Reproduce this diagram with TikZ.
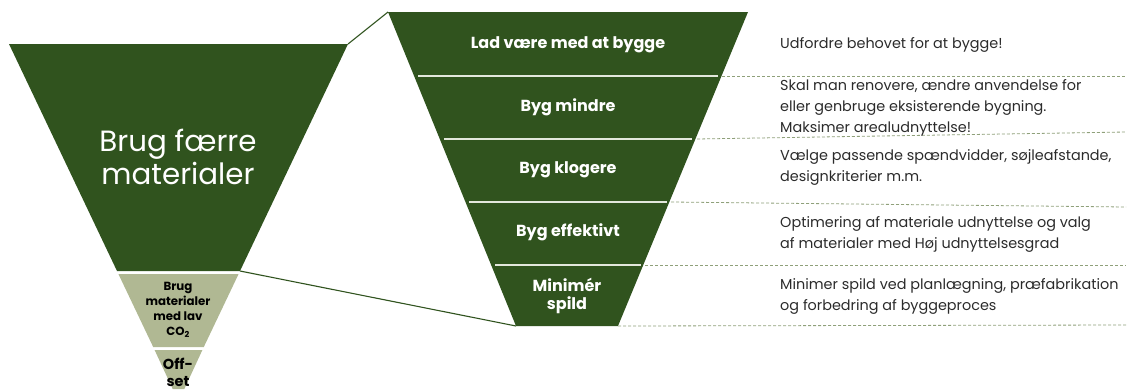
\documentclass[tikz,border=0pt]{standalone}
\usepackage{fontspec}
\setmainfont{Poppins}
\usetikzlibrary{calc,positioning}
\definecolor{Forest}{HTML}{30531E}
\definecolor{Khaki}{HTML}{B0B893}
\definecolor{Guide}{HTML}{8FA07A}
\definecolor{Ink}{HTML}{2B2B2B}
\definecolor{Seam}{HTML}{E3E7DC}
\tikzset{
  darkband/.style={fill=Forest,draw=none},
  lightband/.style={fill=Khaki,draw=none},
  stepname/.style={text=white,font=\fontsize{16}{18}\selectfont\bfseries,align=center},
  lowname/.style={text=black,font=\fontsize{11.8}{15}\selectfont\bfseries,align=center},
  notetext/.style={anchor=west,text=Ink,font=\fontsize{14.4}{21}\selectfont,align=left,inner sep=0pt},
  seamline/.style={draw=Seam,line width=2pt},
  guideline/.style={draw=Guide,dashed,dash pattern=on 3pt off 2pt,line width=.8pt},
  zoomline/.style={draw=Forest,line width=1.1pt}
}
\begin{document}
\begin{tikzpicture}[x=1pt,y=-1pt]
  \useasboundingbox (0,0) rectangle (1134,389);
  % left funnel
  \coordinate (ltl) at (9,44);
  \coordinate (ltr) at (348,44);
  \coordinate (lbl) at (117,271);
  \coordinate (lbr) at (240,271);
  \fill[darkband] (ltl) -- (ltr) -- (lbr) -- (lbl) -- cycle;
  \fill[lightband] (118.4,274) -- (238.6,274) -- (203.8,347) -- (153.2,347) -- cycle;
  \fill[lightband] (154.6,350) -- (202.4,350) -- (184.3,389) -- (172.7,389) -- cycle;
  \node[text=white,font=\fontsize{29.3}{33}\selectfont,align=center] (fewer) at (178,157) {Brug færre\\materialer};
  \node[lowname] (lowco) at (178,310) {Brug\\materialer\\med lav\\CO\textsubscript{2}};
  \node[lowname,font=\fontsize{14.5}{17}\selectfont\bfseries] (offset) at (178,372) {Off-\\set};
  % right funnel
  \coordinate (rtl) at (388,12);
  \coordinate (rtr) at (748,12);
  \coordinate (rbl) at (516,326);
  \coordinate (rbr) at (618,326);
  \fill[darkband] (rtl) -- (rtr) -- (rbr) -- (rbl) -- cycle;
  \foreach \y/\xl/\xr in {76/414/722,139/440/696,202/465/671,265/491/645}{
    \draw[seamline] (\xl+4,\y) -- (\xr-4,\y);
  }
  % zoom lines
  \draw[zoomline] (ltr) -- (rtl);
  \draw[zoomline] (lbr) -- (rbl);
  % dashed guides
  \coordinate (ga) at (722,76);   \coordinate (gae) at (1126,76);
  \coordinate (gb) at (697,139);  \coordinate (gbe) at (1126,132);
  \coordinate (gc) at (671,202);  \coordinate (gce) at (1126,207);
  \coordinate (gd) at (645,265);  \coordinate (gde) at (1126,265);
  \draw[guideline] (ga) -- (gae);
  \draw[guideline] (gb) -- (gbe);
  \draw[guideline] (gc) -- (gce);
  \draw[guideline] (gd) -- (gde);
  \draw[guideline] (rbr) -- (1126,325);
  % step names
  \node[stepname] (dont) at (568,45) {Lad være med at bygge};
  \node[stepname] (less) at (568,107) {Byg mindre};
  \node[stepname] (smart) at (568,170) {Byg klogere};
  \node[stepname] (effic) at (568,232) {Byg effektivt};
  \node[stepname] (waste) at (567,296) {Minimér\\spild};
  % notes
  \node[notetext] (ndont) at (780,45) {Udfordre behovet for at bygge!};
  \node[notetext] (nless) at (780,108) {Skal man renovere, ændre anvendelse for\\eller genbruge eksisterende bygning.\\Maksimer arealudnyttelse!};
  \node[notetext] (nsmart) at (780,167) {Vælge passende spændvidder, søjleafstande,\\designkriterier m.m.};
  \node[notetext] (neffic) at (780,234) {Optimering af materiale udnyttelse og valg\\af materialer med Høj udnyttelsesgrad};
  \node[notetext] (nwaste) at (780,296) {Minimer spild ved planlægning, præfabrikation\\og forbedring af byggeproces};
\end{tikzpicture}
\end{document}
